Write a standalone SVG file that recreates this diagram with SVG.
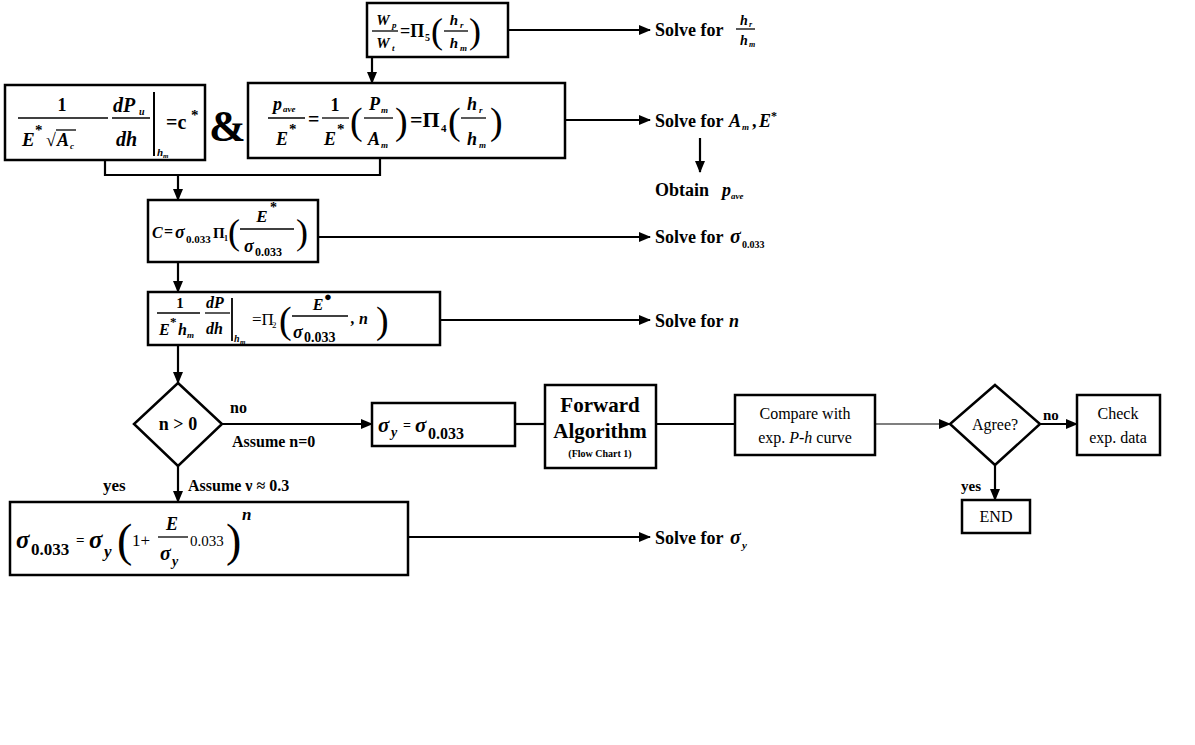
<svg xmlns="http://www.w3.org/2000/svg" width="1195" height="745" viewBox="0 0 1195 745">
<style>
.box{fill:#fff;stroke:#000;stroke-width:2.5}
.ln{fill:none;stroke:#000;stroke-width:2.2}
.fr{stroke:#000;stroke-width:1.3}
.t{font-family:"Liberation Serif",serif;font-weight:bold;fill:#000}
.m{font-family:"Liberation Serif",serif;font-weight:bold;font-style:italic;fill:#000}
.p{font-family:"Liberation Serif",serif;font-weight:normal;fill:#000}
.sv{font-family:"Liberation Serif",serif;font-weight:bold;fill:#000;font-size:18px}
</style>
<defs>
<marker id="ah" viewBox="0 0 12 10" refX="11" refY="5" markerWidth="12" markerHeight="10" orient="auto" markerUnits="userSpaceOnUse">
<path d="M0,0 L12,5 L0,10 Z" fill="#000"/>
</marker>
</defs>
<rect width="1195" height="745" fill="#fff"/>

<g id="connectors">
<line class="ln" x1="508" y1="30" x2="650" y2="30" marker-end="url(#ah)"/>
<line class="ln" x1="372" y1="57" x2="372" y2="83" marker-end="url(#ah)"/>
<line class="ln" x1="565" y1="120" x2="650" y2="120" marker-end="url(#ah)"/>
<line class="ln" x1="700" y1="138" x2="700" y2="172" marker-end="url(#ah)"/>
<polyline class="ln" points="105,160 105,175 380,175 380,158"/>
<line class="ln" x1="178" y1="175" x2="178" y2="200" marker-end="url(#ah)"/>
<line class="ln" x1="318" y1="237" x2="650" y2="237" marker-end="url(#ah)"/>
<line class="ln" x1="178" y1="262" x2="178" y2="292" marker-end="url(#ah)"/>
<line class="ln" x1="440" y1="320" x2="650" y2="320" marker-end="url(#ah)"/>
<line class="ln" x1="178" y1="345" x2="178" y2="383" marker-end="url(#ah)"/>
<line class="ln" x1="222" y1="424" x2="372" y2="424" marker-end="url(#ah)"/>
<line class="ln" x1="515" y1="424" x2="545" y2="424"/>
<line class="ln" x1="656" y1="424" x2="735" y2="424"/>
<line x1="875" y1="424" x2="950" y2="424" stroke="#555" stroke-width="1.6" marker-end="url(#ah)"/>
<line class="ln" x1="1040" y1="424" x2="1077" y2="424" marker-end="url(#ah)"/>
<line class="ln" x1="995" y1="465" x2="995" y2="500" marker-end="url(#ah)"/>
<line class="ln" x1="178" y1="466" x2="178" y2="502" marker-end="url(#ah)"/>
<line class="ln" x1="408" y1="537" x2="650" y2="537" marker-end="url(#ah)"/>
</g>

<g id="box-pi5">
<rect class="box" x="367" y="3" width="141" height="54"/>
<text class="m" x="383" y="25" font-size="15" text-anchor="middle">W</text><text class="m" x="392" y="28" font-size="9">p</text>
<line class="fr" x1="372" y1="31" x2="398" y2="31"/>
<text class="m" x="383" y="48" font-size="15" text-anchor="middle">W</text><text class="m" x="392" y="51" font-size="9">t</text>
<text class="t" x="400" y="37" font-size="18">=Π</text><text class="t" x="425" y="41" font-size="10">5</text>
<text class="p" x="431" y="43" font-size="36">(</text>
<text class="m" x="454" y="25" font-size="15" text-anchor="middle">h</text><text class="m" x="460" y="28" font-size="9">r</text>
<line class="fr" x1="444" y1="31" x2="468" y2="31"/>
<text class="m" x="454" y="48" font-size="15" text-anchor="middle">h</text><text class="m" x="460" y="51" font-size="9">m</text>
<text class="p" x="469" y="43" font-size="36">)</text>
</g>
<g id="txt-solve-hr">
<text class="sv" x="655" y="36">Solve for</text>
<text class="m" x="744" y="25" font-size="14" text-anchor="middle">h</text><text class="m" x="749" y="27" font-size="8">r</text>
<line class="fr" x1="736" y1="29" x2="755" y2="29"/>
<text class="m" x="744" y="45" font-size="14" text-anchor="middle">h</text><text class="m" x="749" y="47" font-size="8">m</text>
</g>

<g id="box-cstar">
<rect class="box" x="5" y="85" width="200" height="75"/>
<text class="t" x="62" y="111" font-size="18" text-anchor="middle">1</text>
<line class="fr" x1="18" y1="118" x2="108" y2="118"/>
<text class="m" x="22" y="146" font-size="19">E</text><text class="t" x="35" y="135" font-size="15">*</text>
<text class="t" x="46" y="146" font-size="18">√</text>
<line class="fr" x1="56" y1="130" x2="76" y2="130"/>
<text class="m" x="57" y="146" font-size="18">A</text><text class="m" x="70" y="149" font-size="9">c</text>
<text class="m" x="113" y="112" font-size="20">dP</text><text class="m" x="139" y="115" font-size="10">u</text>
<line class="fr" x1="112" y1="118" x2="150" y2="118"/>
<text class="m" x="116" y="146" font-size="20">dh</text>
<line x1="154" y1="92" x2="154" y2="156" stroke="#000" stroke-width="2"/>
<text class="m" x="157" y="156" font-size="11">h</text><text class="m" x="163" y="158" font-size="7">m</text>
<text class="t" x="166" y="129" font-size="20">=c</text><text class="t" x="191" y="120" font-size="15">*</text>
</g>
<g id="txt-amp">
<text class="t" x="209" y="141" font-size="44">&amp;</text>
</g>

<g id="box-pi4">
<rect class="box" x="248" y="83" width="317" height="75"/>
<text class="m" x="273" y="110" font-size="18">p</text><text class="m" x="283" y="112" font-size="9">ave</text>
<line class="fr" x1="268" y1="118" x2="305" y2="118"/>
<text class="m" x="276" y="145" font-size="18">E</text><text class="t" x="289" y="134" font-size="15">*</text>
<text class="t" x="308" y="126" font-size="20">=</text>
<text class="t" x="335" y="111" font-size="18" text-anchor="middle">1</text>
<line class="fr" x1="322" y1="118" x2="349" y2="118"/>
<text class="m" x="324" y="145" font-size="18">E</text><text class="t" x="337" y="134" font-size="15">*</text>
<text class="p" x="350" y="134" font-size="38">(</text>
<text class="m" x="369" y="110" font-size="18">P</text><text class="m" x="381" y="113" font-size="9">m</text>
<line class="fr" x1="364" y1="118" x2="393" y2="118"/>
<text class="m" x="368" y="145" font-size="18">A</text><text class="m" x="381" y="148" font-size="9">m</text>
<text class="p" x="395" y="134" font-size="38">)</text>
<text class="t" x="410" y="127" font-size="22">=Π</text><text class="t" x="441" y="132" font-size="11">4</text>
<text class="p" x="448" y="134" font-size="38">(</text>
<text class="m" x="472" y="110" font-size="18" text-anchor="middle">h</text><text class="m" x="479" y="113" font-size="9">r</text>
<line class="fr" x1="461" y1="118" x2="486" y2="118"/>
<text class="m" x="472" y="145" font-size="18" text-anchor="middle">h</text><text class="m" x="479" y="148" font-size="9">m</text>
<text class="p" x="490" y="134" font-size="38">)</text>
</g>
<g id="txt-solve-am">
<text class="sv" x="655" y="127">Solve for</text>
<text class="m" x="729" y="127" font-size="18">A</text><text class="m" x="742" y="130" font-size="9">m</text>
<text class="t" x="752" y="127" font-size="18">,</text>
<text class="m" x="759" y="127" font-size="18">E</text><text class="t" x="771" y="120" font-size="12">*</text>
</g>
<g id="txt-obtain">
<text class="sv" x="655" y="196">Obtain</text>
<text class="m" x="722" y="196" font-size="18">p</text><text class="m" x="731" y="199" font-size="9">ave</text>
</g>

<g id="box-pi1">
<rect class="box" x="148" y="200" width="170" height="62"/>
<text class="m" x="152" y="238" font-size="16">C</text>
<text class="t" x="164" y="237" font-size="16">=</text>
<text class="m" x="175" y="238" font-size="18">σ</text><text class="t" x="186" y="243" font-size="11">0.033</text>
<text class="t" x="213" y="238" font-size="15">Π</text><text class="t" x="224" y="241" font-size="8">1</text>
<text class="p" x="228" y="244" font-size="36">(</text>
<text class="m" x="262" y="222" font-size="17" text-anchor="middle">E</text><text class="t" x="270" y="212" font-size="14">*</text>
<line class="fr" x1="240" y1="229" x2="294" y2="229"/>
<text class="m" x="244" y="252" font-size="18">σ</text><text class="t" x="255" y="256" font-size="12">0.033</text>
<text class="p" x="296" y="244" font-size="36">)</text>
</g>
<g id="txt-solve-s0033">
<text class="sv" x="655" y="243">Solve for</text>
<text class="m" x="730" y="243" font-size="20">σ</text><text class="t" x="742" y="248" font-size="10">0.033</text>
</g>

<g id="box-pi2">
<rect class="box" x="148" y="292" width="292" height="53"/>
<text class="t" x="180" y="308" font-size="15" text-anchor="middle">1</text>
<line class="fr" x1="157" y1="313" x2="200" y2="313"/>
<text class="m" x="159" y="335" font-size="16">E</text><text class="t" x="170" y="326" font-size="13">*</text>
<text class="m" x="178" y="335" font-size="16">h</text><text class="m" x="187" y="338" font-size="9">m</text>
<text class="m" x="206" y="308" font-size="16">dP</text>
<line class="fr" x1="205" y1="313" x2="230" y2="313"/>
<text class="m" x="206" y="334" font-size="16">dh</text>
<line x1="232" y1="298" x2="232" y2="341" stroke="#000" stroke-width="1.8"/>
<text class="m" x="234" y="342" font-size="10">h</text><text class="m" x="240" y="344" font-size="7">m</text>
<text class="p" x="252" y="325" font-size="17">=Π</text><text class="p" x="272" y="328" font-size="9">2</text>
<text class="p" x="279" y="333" font-size="38">(</text>
<text class="m" x="318" y="310" font-size="16" text-anchor="middle">E</text><text class="t" x="324" y="301" font-size="13">●</text>
<line class="fr" x1="292" y1="316" x2="348" y2="316"/>
<text class="m" x="293" y="338" font-size="18">σ</text><text class="t" x="304" y="342" font-size="14">0.033</text>
<text class="m" x="351" y="324" font-size="16">, n</text>
<text class="p" x="376" y="333" font-size="38">)</text>
</g>
<g id="txt-solve-n">
<text class="sv" x="655" y="327">Solve for</text><text class="m" x="729" y="327" font-size="18">n</text>
</g>

<g id="dia-n">
<polygon class="box" points="178,383 222,424 178,466 134,424"/>
<text class="t" x="178" y="430" font-size="18" text-anchor="middle">n &gt; 0</text>
</g>
<g id="lbl-no1">
<text class="t" x="230" y="413" font-size="16">no</text>
<text class="t" x="232" y="447" font-size="16">Assume n=0</text>
</g>
<g id="box-sy">
<rect class="box" x="372" y="403" width="143" height="43"/>
<text class="m" x="378" y="432" font-size="21">σ</text><text class="m" x="391" y="437" font-size="14">y</text>
<text class="t" x="403" y="430" font-size="14">=</text>
<text class="m" x="415" y="432" font-size="21">σ</text><text class="t" x="428" y="439" font-size="16">0.033</text>
</g>
<g id="box-forward">
<rect class="box" x="545" y="385" width="111" height="83"/>
<text class="t" x="600" y="412" font-size="21" text-anchor="middle">Forward</text>
<text class="t" x="600" y="438" font-size="21" text-anchor="middle">Algorithm</text>
<text class="t" x="600" y="457" font-size="10" text-anchor="middle">(Flow Chart 1)</text>
</g>
<g id="box-compare">
<rect class="box" x="735" y="395" width="140" height="60"/>
<text class="p" x="805" y="419" font-size="16" text-anchor="middle">Compare with</text>
<text class="p" x="805" y="443" font-size="16" text-anchor="middle">exp. <tspan font-style="italic">P</tspan>-<tspan font-style="italic">h</tspan> curve</text>
</g>
<g id="dia-agree">
<polygon class="box" points="995,385 1040,424 995,465 950,424"/>
<text class="p" x="995" y="430" font-size="16" text-anchor="middle">Agree?</text>
</g>
<g id="lbl-no2">
<text class="t" x="1043" y="420" font-size="15">no</text>
</g>
<g id="box-check">
<rect class="box" x="1077" y="395" width="83" height="60"/>
<text class="p" x="1118" y="419" font-size="16" text-anchor="middle">Check</text>
<text class="p" x="1118" y="443" font-size="16" text-anchor="middle">exp. data</text>
</g>
<g id="lbl-yes2">
<text class="t" x="961" y="491" font-size="15">yes</text>
</g>
<g id="box-end">
<rect class="box" x="962" y="500" width="68" height="33"/>
<text class="p" x="996" y="522" font-size="16" text-anchor="middle">END</text>
</g>
<g id="lbl-yes1">
<text class="t" x="103" y="491" font-size="17">yes</text>
<text class="t" x="188" y="491" font-size="16">Assume ν ≈ 0.3</text>
</g>

<g id="box-sigma">
<rect class="box" x="10" y="502" width="398" height="73"/>
<text class="m" x="16" y="548" font-size="25">σ</text><text class="t" x="31" y="555" font-size="17">0.033</text>
<text class="t" x="76" y="545" font-size="15">=</text>
<text class="m" x="89" y="548" font-size="25">σ</text><text class="m" x="104" y="557" font-size="17">y</text>
<text class="p" x="117" y="556" font-size="46">(</text>
<text class="p" x="132" y="546" font-size="17">1+</text>
<text class="m" x="172" y="530" font-size="18" text-anchor="middle">E</text>
<line class="fr" x1="158" y1="537" x2="188" y2="537"/>
<text class="m" x="160" y="560" font-size="20">σ</text><text class="m" x="172" y="566" font-size="14">y</text>
<text class="p" x="190" y="546" font-size="15">0.033</text>
<text class="p" x="226" y="556" font-size="46">)</text>
<text class="m" x="242" y="520" font-size="17">n</text>
</g>
<g id="txt-solve-sy">
<text class="sv" x="655" y="544">Solve for</text>
<text class="m" x="730" y="544" font-size="20">σ</text><text class="m" x="742" y="549" font-size="11">y</text>
</g>
</svg>
